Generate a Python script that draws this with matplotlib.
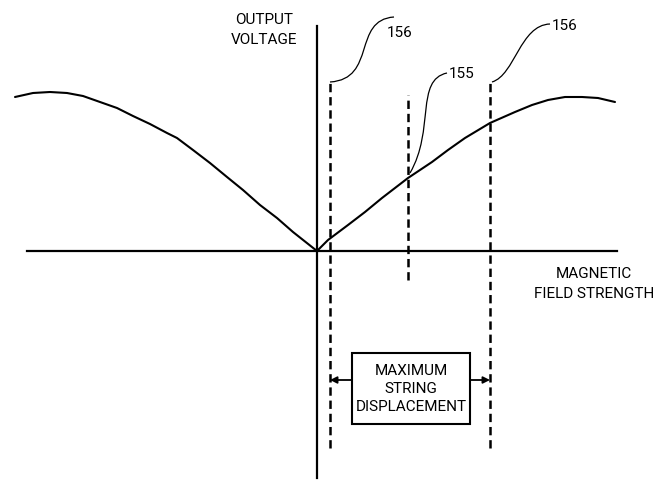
import matplotlib
matplotlib.use("Agg")
import matplotlib.pyplot as plt
from matplotlib.path import Path
from matplotlib.patches import PathPatch, Rectangle

plt.rcParams['font.family'] = ['Roboto', 'DejaVu Sans']
plt.rcParams['lines.scale_dashes'] = False

# output voltage vs magnetic field strength (origin at the bias point)
field_left = [-302, -284, -267, -250, -234, -217, -200, -184, -167, -150, -140, -124,
              -107, -90, -74, -57, -40, -24, 0]
volt_left = [154, 158, 159, 158, 155, 149, 143, 135, 127, 118, 113, 101,
             88, 74, 61, 46, 33, 19, 0]
field_right = [0, 11, 31, 48, 65, 91, 115, 131, 148, 173, 198, 215, 231, 248, 265, 281, 298]
volt_right = [0, 11, 26, 39, 53, 73, 89, 101, 113, 128, 139, 146, 151, 154, 154, 153, 149]

# dashed markers: positions and vertical extent
marker_x = [13, 91, 173]
marker_top = [169, 156, 169]
marker_bottom = [-197, -29, -197]

fig = plt.figure(figsize=(6.54, 4.8), dpi=100)
ax = fig.add_axes([0, 0, 1, 1])
ax.set_xlim(-317, 337)
ax.set_ylim(-229, 251)
ax.axis('off')

# axes
ax.plot([-290, 300], [0, 0], color='black', lw=1.6)
ax.plot([0, 0], [-227, 225], color='black', lw=1.6)

# response curve
ax.plot(field_left, volt_left, color='black', lw=1.5, solid_capstyle='round')
ax.plot(field_right, volt_right, color='black', lw=1.5, solid_capstyle='round')

# dashed lines
for x, t, b in zip(marker_x, marker_top, marker_bottom):
    ax.plot([x, x], [b, t], color='black', lw=1.8, dashes=(6, 3.5))

def leader(p0, p1, p2, p3):
    path = Path([p0, p1, p2, p3], [Path.MOVETO, Path.CURVE4, Path.CURVE4, Path.CURVE4])
    ax.add_patch(PathPatch(path, fill=False, color='black', lw=0.9))

leader((13, 169), (60, 172), (35, 231), (77, 234))
leader((175, 169), (198, 176), (203, 226), (233, 227))
leader((93, 78), (118, 121), (98, 171), (130, 178))

fs = 11
ax.text(-53, 221, 'OUTPUT\nVOLTAGE', ha='center', va='center', fontsize=fs, linespacing=1.5)
ax.text(277, -33, 'MAGNETIC\nFIELD STRENGTH', ha='center', va='center', fontsize=fs, linespacing=1.5)
ax.text(83, 218, '156', ha='center', va='center', fontsize=fs)
ax.text(235, 225, '156', ha='left', va='center', fontsize=fs)
ax.text(132, 177, '155', ha='left', va='center', fontsize=fs)

# maximum string displacement box
ax.add_patch(Rectangle((35, -173), 118, 71, fill=False, edgecolor='black', lw=1.5))
ax.text(94, -138, 'MAXIMUM\nSTRING\nDISPLACEMENT', ha='center', va='center', fontsize=fs, linespacing=1.4)
ax.annotate('', xy=(13, -129), xytext=(35, -129),
            arrowprops=dict(arrowstyle='-|>', color='black', lw=1.3, mutation_scale=10, shrinkA=0, shrinkB=0))
ax.annotate('', xy=(173, -129), xytext=(153, -129),
            arrowprops=dict(arrowstyle='-|>', color='black', lw=1.3, mutation_scale=10, shrinkA=0, shrinkB=0))

fig.savefig('out.png', dpi=100, facecolor='white')
